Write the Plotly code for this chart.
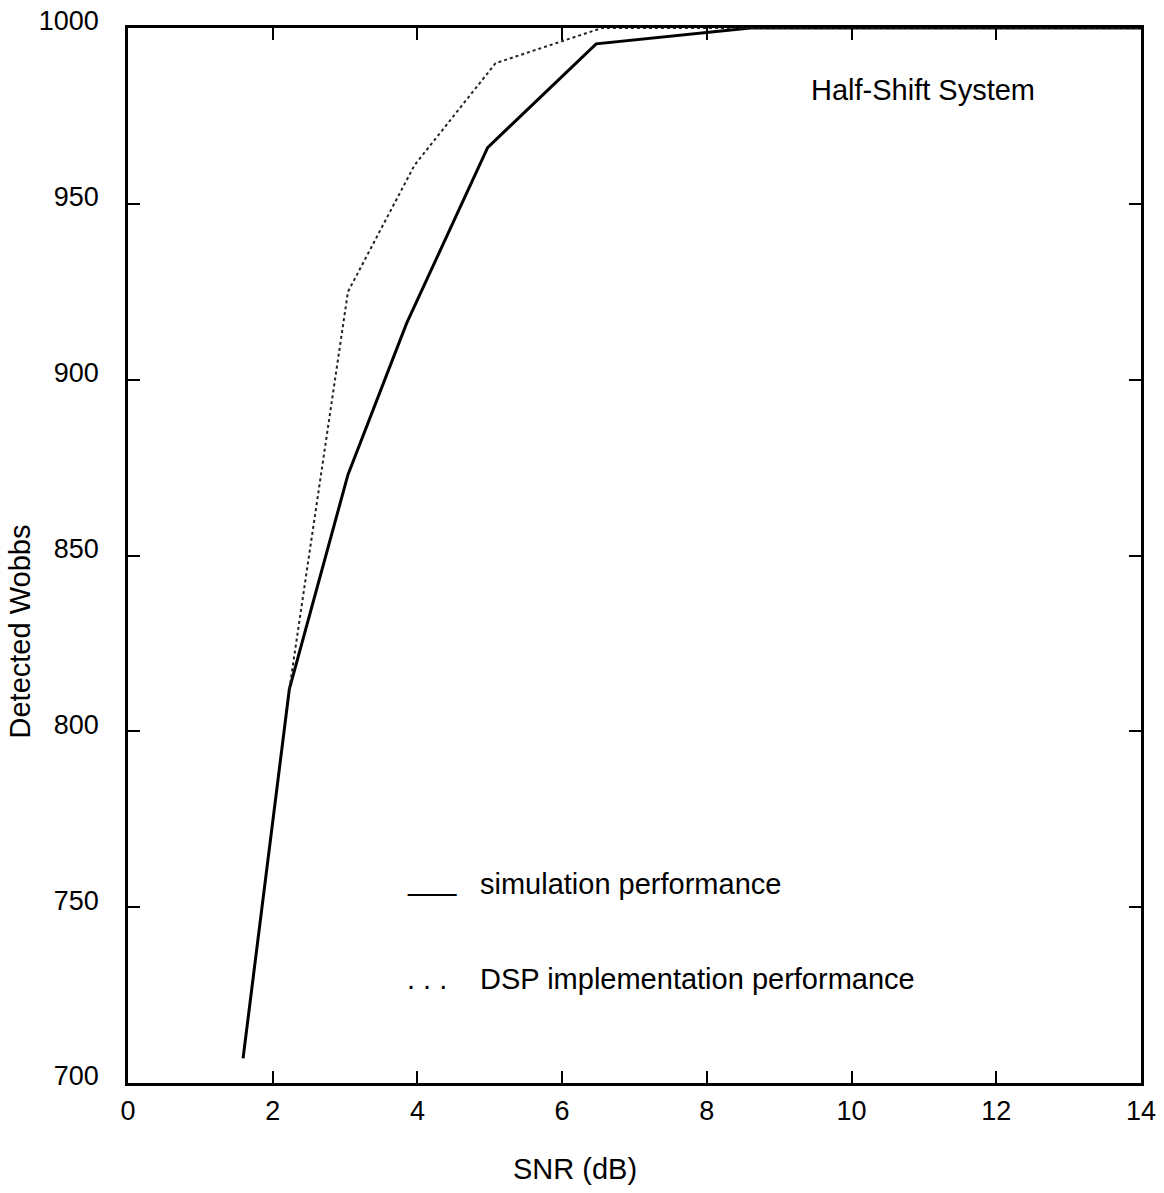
import plotly.graph_objects as go

# Data
snr_sim = [1.59, 2.23, 3.04, 3.85, 4.97, 6.47, 8.6, 14.0]
wobbs_sim = [707, 812, 873, 916, 966, 995.5, 1000, 1000]

snr_dsp = [2.23, 3.04, 3.96, 5.08, 6.55, 14.0]
wobbs_dsp = [812, 925, 961, 990, 1000, 1000]

x_ticks = [0, 2, 4, 6, 8, 10, 12, 14]
y_ticks = [700, 750, 800, 850, 900, 950, 1000]

FONT = "Liberation Sans, Arial, Helvetica, sans-serif"
FS = 29
TFS = 27

fig = go.Figure()
fig.add_trace(go.Scatter(x=snr_sim, y=wobbs_sim, mode="lines",
                         line=dict(color="black", width=3),
                         name="simulation performance", showlegend=False))
fig.add_trace(go.Scatter(x=snr_dsp, y=wobbs_dsp, mode="lines",
                         line=dict(color="#222222", width=2, dash="dot"),
                         name="DSP implementation performance", showlegend=False))

axis_common = dict(showline=True, linecolor="black", linewidth=2.5, mirror="ticks",
                   ticks="inside", ticklen=12, tickwidth=2, tickcolor="black",
                   showgrid=False, zeroline=False, automargin=False,
                   tickfont=dict(family=FONT, size=TFS, color="black"))

fig.update_xaxes(range=[0, 14], tickvals=x_ticks, ticktext=[str(v) for v in x_ticks],
                 ticklabelstandoff=2, **axis_common)
fig.update_yaxes(range=[700, 1000], tickvals=y_ticks, ticktext=[str(v) for v in y_ticks],
                 ticklabelstandoff=21, ticklabelshift=-7, **axis_common)

annots = [
    dict(text="Half-Shift System", x=0.672, y=0.941, xanchor="left", yanchor="middle"),
    dict(text="___", x=0.2734, y=0.1923, xanchor="left", yanchor="middle"),
    dict(text="simulation performance", x=0.3455, y=0.1886, xanchor="left", yanchor="middle"),
    dict(text=". . .", x=0.2734, y=0.0986, xanchor="left", yanchor="middle"),
    dict(text="DSP implementation performance", x=0.3455, y=0.0986, xanchor="left", yanchor="middle"),
    dict(text="SNR (dB)", x=0.441, y=-0.0815, xanchor="center", yanchor="middle"),
    dict(text="Detected Wobbs", x=-0.1066, y=0.428, xanchor="center", yanchor="middle", textangle=-90),
]
for a in annots:
    fig.add_annotation(xref="paper", yref="paper", showarrow=False,
                       font=dict(family=FONT, size=FS, color="black"), **a)

fig.update_layout(width=1164, height=1193,
                  margin=dict(l=128, r=23, t=28, b=110, autoexpand=False),
                  plot_bgcolor="white", paper_bgcolor="white",
                  showlegend=False)

fig.write_html("out.html")
